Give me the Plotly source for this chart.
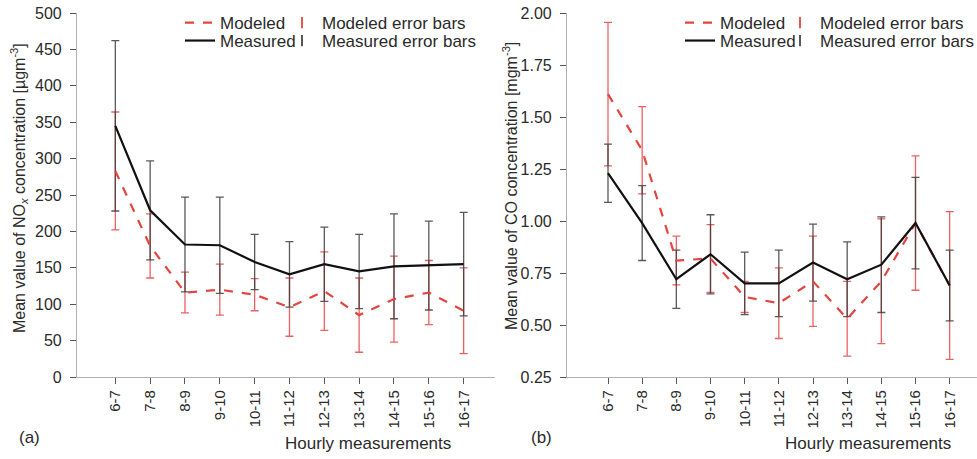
import plotly.graph_objects as go

hours = ["6-7", "7-8", "8-9", "9-10", "10-11", "11-12", "12-13", "13-14", "14-15", "15-16", "16-17"]

nox_measured = [345, 229, 182, 181, 158, 141, 155, 145, 152, 153, 155]
nox_measured_err = [117, 68, 65, 66, 38, 45, 51, 51, 72, 61, 71]
nox_modeled = [283, 180, 116, 120, 113, 96, 118, 85, 107, 116, 91]
nox_modeled_err = [81, 44, 28, 35, 22, 40, 54, 51, 59, 44, 59]

co_measured = [1.23, 0.99, 0.72, 0.84, 0.70, 0.70, 0.80, 0.72, 0.79, 0.99, 0.69]
co_measured_err = [0.14, 0.18, 0.14, 0.19, 0.15, 0.16, 0.185, 0.18, 0.23, 0.22, 0.17]
co_modeled = [1.61, 1.34, 0.81, 0.82, 0.635, 0.605, 0.71, 0.53, 0.71, 0.99, 0.69]
co_modeled_err = [0.345, 0.21, 0.117, 0.163, 0.075, 0.17, 0.217, 0.18, 0.30, 0.323, 0.355]

RED = "#e4453f"
RED_ERR = "rgba(230,70,70,0.85)"
BLACK = "#111111"
GRAY_ERR = "rgba(60,60,60,0.85)"
FONT = "Liberation Sans, Arial, sans-serif"
TXT = "#2a2a2a"
W, H = 977, 459

fig = go.Figure()


def add_panel(xa, ya, modeled, modeled_err, measured, measured_err, legs):
    fig.add_trace(go.Scatter(x=hours, y=modeled, mode="markers", marker=dict(size=0.1, color=RED_ERR),
                             error_y=dict(type="data", array=modeled_err, color=RED_ERR, thickness=1.3, width=4),
                             xaxis=xa, yaxis=ya, showlegend=False))
    fig.add_trace(go.Scatter(x=hours, y=measured, mode="markers", marker=dict(size=0.1, color=GRAY_ERR),
                             error_y=dict(type="data", array=measured_err, color=GRAY_ERR, thickness=1.3, width=4),
                             xaxis=xa, yaxis=ya, showlegend=False))
    fig.add_trace(go.Scatter(x=hours, y=modeled, mode="lines", name="Modeled",
                             line=dict(color=RED, width=2.2, dash="dash"),
                             xaxis=xa, yaxis=ya, legend=legs[0]))
    fig.add_trace(go.Scatter(x=hours, y=measured, mode="lines", name="Measured",
                             line=dict(color=BLACK, width=2.2),
                             xaxis=xa, yaxis=ya, legend=legs[1]))
    fig.add_trace(go.Scatter(x=[None], y=[None], mode="markers", name="Modeled error bars",
                             marker=dict(symbol="line-ns", size=8, line=dict(color=RED, width=1.8)),
                             xaxis=xa, yaxis=ya, legend=legs[2]))
    fig.add_trace(go.Scatter(x=[None], y=[None], mode="markers", name="Measured error bars",
                             marker=dict(symbol="line-ns", size=8, line=dict(color="#444", width=1.8)),
                             xaxis=xa, yaxis=ya, legend=legs[3]))


add_panel("x", "y", nox_modeled, nox_modeled_err, nox_measured, nox_measured_err,
          ["legend", "legend2", "legend3", "legend4"])
add_panel("x2", "y2", co_modeled, co_modeled_err, co_measured, co_measured_err,
          ["legend5", "legend6", "legend7", "legend8"])

ydom = [(H - 377) / H, (H - 13) / H]
axis_common = dict(showline=True, linecolor="#b0b0b0", linewidth=1.2, ticks="outside",
                   ticklen=6, tickcolor="#555", tickwidth=1, showgrid=False, zeroline=False)
xtick_font = dict(family=FONT, size=15, color=TXT)
ytick_font = dict(family=FONT, size=16, color=TXT)


def leg(xpx, ypx):
    return dict(x=xpx / W, y=1 - ypx / H, xanchor="left", yanchor="top", bgcolor="rgba(0,0,0,0)",
                font=dict(family=FONT, size=17, color=TXT), itemwidth=30)


# legend rows: text centre targets y=21 and y=40 px
ROW1, ROW2 = 5, 23
fig.update_layout(
    width=W, height=H,
    margin=dict(l=0, r=0, t=0, b=0, autoexpand=False),
    paper_bgcolor="white", plot_bgcolor="white",
    hovermode=False,
    font=dict(family=FONT, size=16, color=TXT),
    xaxis=dict(domain=[77 / W, 495 / W], type="category", range=[-1.1, 10.9], tickangle=-90,
               anchor="y", tickfont=xtick_font, **axis_common),
    yaxis=dict(domain=ydom, range=[0, 500], dtick=50, anchor="x", tickfont=ytick_font,
               ticklabelstandoff=5, **axis_common),
    xaxis2=dict(domain=[567 / W, 1.0], type="category", range=[-1.2, 10.8], tickangle=-90,
                anchor="y2", tickfont=xtick_font, **axis_common),
    yaxis2=dict(domain=ydom, range=[0.25, 2.0], dtick=0.25, tickformat=".2f", anchor="x2",
                tickfont=ytick_font, ticklabelstandoff=5, **axis_common),
    legend=leg(180, ROW1), legend2=leg(180, ROW2),
    legend3=leg(282, ROW1), legend4=leg(282, ROW2),
    legend5=leg(680, ROW1), legend6=leg(680, ROW2),
    legend7=leg(780, ROW1), legend8=leg(780, ROW2),
)

ann_font = dict(family=FONT, size=17, color=TXT)
title_font = dict(family=FONT, size=16, color=TXT)


def ann(text, xpx, ypx, font, angle=0):
    fig.add_annotation(text=text, x=xpx / W, y=1 - ypx / H, xref="paper", yref="paper",
                       xanchor="center", yanchor="middle", textangle=angle,
                       showarrow=False, font=font)


ann("Mean value of NO<sub><i>x</i></sub> concentration [µgm<sup>-3</sup>]", 19, 188, title_font, -90)
ann("Mean value of CO concentration [mgm<sup>-3</sup>]", 510, 186, title_font, -90)
ann("Hourly measurements", 368, 443, ann_font)
ann("Hourly measurements", 868, 443, ann_font)
ann("(a)", 29, 437, ann_font)
ann("(b)", 541, 437, ann_font)

fig.write_html("out.html", config={"displayModeBar": False},
               post_script="document.body.style.margin='0px';")
